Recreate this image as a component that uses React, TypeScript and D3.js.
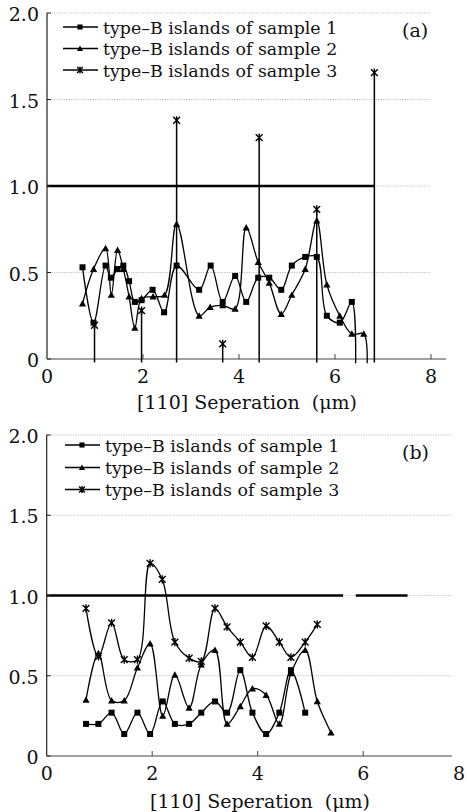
import React from 'react';
import * as d3 from 'd3';

// ---------- data ----------
const xTickValues = [0, 2, 4, 6, 8];
const xTickLabels = ['0', '2', '4', '6', '8'];
const yTickValues = [0, 0.5, 1.0, 1.5, 2.0];
const yTickLabels = ['0', '0.5', '1.0', '1.5', '2.0'];
const gridValues = [0.5, 1.0, 1.5, 2.0];
const legendLabels = [
  'type–B islands of sample 1',
  'type–B islands of sample 2',
  'type–B islands of sample 3',
];
const xAxisTitle = '[110] Seperation\u00a0\u00a0(μm)';

// panel (a)
const a1x = [0.74, 0.97, 1.22, 1.33, 1.47, 1.59, 1.71, 1.83, 1.97, 2.20, 2.44, 2.70, 3.17, 3.41, 3.66, 3.92, 4.15, 4.40, 4.63, 4.88, 5.10, 5.38, 5.62, 5.83, 6.10, 6.35, 6.43];
const a1y = [0.53, 0.21, 0.54, 0.47, 0.52, 0.54, 0.45, 0.33, 0.34, 0.40, 0.27, 0.54, 0.40, 0.54, 0.33, 0.48, 0.33, 0.47, 0.47, 0.40, 0.54, 0.59, 0.59, 0.25, 0.21, 0.33, -0.025];
const a2x = [0.74, 0.97, 1.22, 1.34, 1.47, 1.59, 1.71, 1.83, 1.97, 2.21, 2.45, 2.70, 3.17, 3.40, 3.66, 3.92, 4.15, 4.40, 4.63, 4.88, 5.10, 5.38, 5.62, 5.83, 6.10, 6.35, 6.60, 6.67];
const a2y = [0.32, 0.52, 0.64, 0.37, 0.63, 0.52, 0.36, 0.18, 0.35, 0.36, 0.37, 0.78, 0.25, 0.30, 0.31, 0.29, 0.76, 0.56, 0.44, 0.26, 0.37, 0.52, 0.80, 0.43, 0.25, 0.145, 0.145, -0.025];
const a3x = [0.99, 1.97, 2.70, 3.66, 4.42, 5.62, 6.82];
const a3y = [0.195, 0.28, 1.38, 0.087, 1.28, 0.865, 1.655];
const aRefSegments: [number, number][] = [[0, 6.82]];

// panel (b)
const b1x = [0.745, 0.98, 1.23, 1.47, 1.72, 1.96, 2.20, 2.43, 2.70, 2.93, 3.19, 3.42, 3.67, 3.90, 4.16, 4.41, 4.63, 4.90];
const b1y = [0.20, 0.20, 0.27, 0.137, 0.27, 0.137, 0.34, 0.20, 0.20, 0.27, 0.34, 0.27, 0.535, 0.27, 0.137, 0.27, 0.535, 0.27];
const b2x = [0.745, 0.98, 1.23, 1.47, 1.72, 1.96, 2.20, 2.43, 2.70, 2.93, 3.19, 3.42, 3.67, 3.90, 4.16, 4.41, 4.63, 4.90, 5.13, 5.39];
const b2y = [0.35, 0.64, 0.345, 0.345, 0.55, 0.70, 0.25, 0.505, 0.30, 0.57, 0.66, 0.20, 0.31, 0.42, 0.38, 0.20, 0.515, 0.66, 0.34, 0.145];
const b3x = [0.745, 0.98, 1.23, 1.47, 1.72, 1.96, 2.19, 2.43, 2.70, 2.93, 3.19, 3.42, 3.67, 3.90, 4.16, 4.41, 4.63, 4.90, 5.13];
const b3y = [0.92, 0.62, 0.83, 0.60, 0.60, 1.20, 1.10, 0.71, 0.61, 0.59, 0.92, 0.805, 0.71, 0.615, 0.81, 0.71, 0.615, 0.71, 0.82];
const bRefSegments: [number, number][] = [[0, 5.62], [5.86, 6.84]];

// ---------- helpers ----------
const FONT = "'DejaVu Serif', serif";
const W = 467;
const H = 812;
const txt = { fontFamily: FONT, fill: '#111' } as const;

type Pt = [number, number];
const zip = (xs: number[], ys: number[]): Pt[] => xs.map((x, i) => [x, ys[i]]);

function Marker({ kind, x, y, s = 1 }: { kind: number; x: number; y: number; s?: number }) {
  if (kind === 0) {
    const h = 3 * s;
    return <rect x={x - h} y={y - h} width={2 * h} height={2 * h} fill="#000" />;
  }
  if (kind === 1) {
    const h = 3.6 * s;
    return <path d={`M${x},${y - h}L${x + h},${y + h * 0.8}L${x - h},${y + h * 0.8}Z`} fill="#000" />;
  }
  const r = 3.4 * s;
  return (
    <path
      d={`M${x - r},${y - r}L${x + r},${y + r}M${x - r},${y + r}L${x + r},${y - r}M${x},${y - r * 1.2}L${x},${y + r * 1.2}`}
      stroke="#000"
      strokeWidth={1.4}
      fill="none"
    />
  );
}

interface PanelProps {
  x0: number; x8: number; yTop: number; yBottom: number;
  axisEnd: number; gridEnd: number;
  lines: { pts: Pt[]; kind: number }[];
  stems: { pts: Pt[]; kind: number }[];
  refSegs: [number, number][];
  legendX: number; legendY: number[];
  tag: string; tagX: number; tagY: number;
  titleX: number; titleY: number;
}

function Panel(p: PanelProps) {
  const x = d3.scaleLinear().domain([0, 8]).range([p.x0, p.x8]);
  const y = d3.scaleLinear().domain([0, 2]).range([p.yBottom, p.yTop]);
  const line = d3
    .line<Pt>()
    .x((d) => x(d[0]))
    .y((d) => y(d[1]))
    .curve(d3.curveCatmullRom.alpha(0.5));
  const axisEndVal = x.invert(p.axisEnd);
  const gridEndVal = x.invert(p.gridEnd);
  return (
    <g>
      {gridValues.map((g) => (
        <line key={g} x1={x(0)} x2={x(gridEndVal)} y1={y(g)} y2={y(g)} stroke="#b0b0b0" strokeWidth={0.8} strokeDasharray="1.2,1.2" />
      ))}
      {p.refSegs.map((s, i) => (
        <line key={i} x1={x(s[0])} x2={x(s[1])} y1={y(1)} y2={y(1)} stroke="#000" strokeWidth={2.6} />
      ))}
      <line x1={x(0)} x2={x(0)} y1={y(0)} y2={y(2)} stroke="#222" strokeWidth={1.2} />
      <line x1={x(0)} x2={x(axisEndVal)} y1={y(0)} y2={y(0)} stroke="#444" strokeWidth={1.2} />
      {yTickValues.map((t, i) => (
        <g key={t}>
          <line x1={x(0)} x2={x(0) + 4} y1={y(t)} y2={y(t)} stroke="#222" strokeWidth={1} />
          <text x={x(0) - 8} y={y(t) + 8} textAnchor="end" fontSize={19} style={txt}>
            {yTickLabels[i]}
          </text>
        </g>
      ))}
      {xTickValues.map((t, i) => {
        const px = x(t);
        const inside = t <= axisEndVal;
        return (
          <g key={t}>
            {inside && t > 0 && <line x1={px} x2={px} y1={y(0)} y2={y(0) - 5} stroke="#444" strokeWidth={1} />}
            <text x={Math.min(px, W - 8)} y={y(0) + 24} textAnchor="middle" fontSize={19} style={txt}>
              {xTickLabels[i]}
            </text>
          </g>
        );
      })}
      {p.stems.map((s, si) => (
        <g key={si}>
          {s.pts.map((d, i) => (
            <line key={i} x1={x(d[0])} x2={x(d[0])} y1={y(d[1])} y2={y(-0.02)} stroke="#000" strokeWidth={1.5} />
          ))}
          {s.pts.map((d, i) => (
            <Marker key={'m' + i} kind={s.kind} x={x(d[0])} y={y(d[1])} />
          ))}
        </g>
      ))}
      {p.lines.map((s, si) => (
        <g key={si}>
          <path d={line(s.pts) || ''} fill="none" stroke="#000" strokeWidth={1.3} />
          {s.pts
            .filter((d) => d[1] > 0)
            .map((d, i) => (
              <Marker key={i} kind={s.kind} x={x(d[0])} y={y(d[1])} />
            ))}
        </g>
      ))}
      {legendLabels.map((lab, i) => (
        <g key={lab}>
          <line x1={p.legendX} x2={p.legendX + 35} y1={p.legendY[i]} y2={p.legendY[i]} stroke="#000" strokeWidth={1.5} />
          <Marker kind={i} x={p.legendX + 17} y={p.legendY[i]} s={0.85} />
          <text x={p.legendX + 40} y={p.legendY[i] + 6.5} fontSize={17.4} style={txt}>
            {lab}
          </text>
        </g>
      ))}
      <text x={p.tagX} y={p.tagY} fontSize={19} style={txt}>
        {p.tag}
      </text>
      <text x={p.titleX} y={p.titleY} textAnchor="middle" fontSize={19} style={txt}>
        {xAxisTitle}
      </text>
    </g>
  );
}

export default function App() {
  return (
    <svg width={W} height={H} style={{ position: 'absolute', left: 0, top: 0, background: '#fff' }}>
      <rect width={W} height={H} fill="#fff" />
      <Panel
        x0={47} x8={431} yTop={13} yBottom={359} axisEnd={446} gridEnd={430}
        lines={[{ pts: zip(a1x, a1y), kind: 0 }, { pts: zip(a2x, a2y), kind: 1 }]}
        stems={[{ pts: zip(a3x, a3y), kind: 2 }]}
        refSegs={aRefSegments}
        legendX={63} legendY={[27, 48.5, 70]}
        tag="(a)" tagX={402} tagY={37}
        titleX={247} titleY={408.5}
      />
      <Panel
        x0={46.7} x8={468.7} yTop={435} yBottom={756} axisEnd={452} gridEnd={452}
        lines={[{ pts: zip(b1x, b1y), kind: 0 }, { pts: zip(b2x, b2y), kind: 1 }, { pts: zip(b3x, b3y), kind: 2 }]}
        stems={[]}
        refSegs={bRefSegments}
        legendX={65} legendY={[445, 467.5, 489.5]}
        tag="(b)" tagX={402} tagY={458.5}
        titleX={260} titleY={808}
      />
    </svg>
  );
}
